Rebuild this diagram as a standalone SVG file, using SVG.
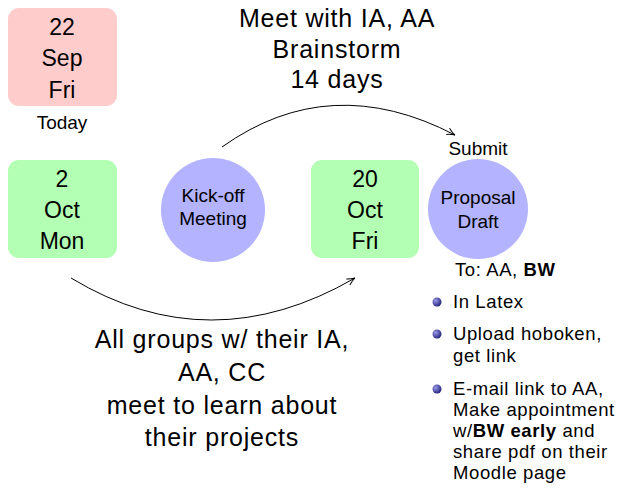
<svg xmlns="http://www.w3.org/2000/svg" width="622" height="502" viewBox="0 0 622 502">
<style>
text{font-family:"Liberation Sans","DejaVu Sans",sans-serif;fill:#000;text-anchor:middle}
.big{font-size:25px;letter-spacing:0.8px}
.box{font-size:23px}
.mid{font-size:19px}
.sm{font-size:19px}
.lst{font-size:18.5px;letter-spacing:0.6px;text-anchor:start}
.pink{fill:#ffcccc}
.green{fill:#b3ffb3}
.blue{fill:#b3b3ff}
.conn{fill:none;stroke:#000;stroke-width:1}
</style>
<defs>
<marker id="arr" viewBox="0 0 10 10" refX="9" refY="5" markerWidth="10" markerHeight="10" markerUnits="userSpaceOnUse" orient="auto">
<path d="M1,1.5 Q5,4 9,5 Q5,6 1,8.5" fill="none" stroke="#000" stroke-width="1"/>
</marker>
<radialGradient id="ball" cx="0.35" cy="0.35" r="0.7">
<stop offset="0" stop-color="#9a9ae8"/>
<stop offset="1" stop-color="#20207a"/>
</radialGradient>
</defs>
<g id="n-today">
<rect class="pink" x="8" y="8" width="109" height="98" rx="11"/>
<text class="box" x="62" y="35">22</text>
<text class="box" x="62" y="66">Sep</text>
<text class="box" x="62" y="98">Fri</text>
<text class="sm" x="62" y="129">Today</text>
</g>
<g id="n-oct2">
<rect class="green" x="8" y="160" width="109" height="98" rx="11"/>
<text class="box" x="62" y="187">2</text>
<text class="box" x="62" y="218">Oct</text>
<text class="box" x="62" y="249">Mon</text>
</g>
<g id="n-kickoff">
<circle class="blue" cx="213" cy="210" r="52"/>
<text class="mid" x="213" y="202">Kick-off</text>
<text class="mid" x="213" y="225">Meeting</text>
</g>
<g id="n-oct20">
<rect class="green" x="311" y="160" width="108" height="98" rx="11"/>
<text class="box" x="365" y="187">20</text>
<text class="box" x="365" y="218">Oct</text>
<text class="box" x="365" y="249">Fri</text>
</g>
<g id="n-proposal">
<circle class="blue" cx="478" cy="209" r="50"/>
<text class="mid" x="478" y="204">Proposal</text>
<text class="mid" x="478" y="228">Draft</text>
<text class="sm" x="478" y="155">Submit</text>
</g>
<g id="n-list">
<text class="lst" x="455" y="276">To: AA, <tspan font-weight="bold">BW</tspan></text>
<circle cx="437" cy="302" r="4.5" fill="url(#ball)"/>
<text class="lst" x="453" y="308">In Latex</text>
<circle cx="437" cy="334" r="4.5" fill="url(#ball)"/>
<text class="lst" x="453" y="340">Upload hoboken,</text>
<text class="lst" x="453" y="362">get link</text>
<circle cx="437" cy="389" r="4.5" fill="url(#ball)"/>
<text class="lst" x="453" y="395">E-mail link to AA,</text>
<text class="lst" x="453" y="416">Make appointment</text>
<text class="lst" x="453" y="437">w/<tspan font-weight="bold">BW early</tspan> and</text>
<text class="lst" x="453" y="458">share pdf on their</text>
<text class="lst" x="453" y="479">Moodle page</text>
</g>
<g id="n-toplabel">
<text class="big" x="337" y="27">Meet with IA, AA</text>
<text class="big" x="337" y="58">Brainstorm</text>
<text class="big" x="337" y="88">14 days</text>
</g>
<g id="n-botlabel">
<text class="big" x="222" y="348">All groups w/ their IA,</text>
<text class="big" x="222" y="381">AA, CC</text>
<text class="big" x="222" y="414">meet to learn about</text>
<text class="big" x="222" y="446">their projects</text>
</g>
<g id="connectors">
<path class="conn" d="M222,147 Q330,70 455,135" marker-end="url(#arr)"/>
<path class="conn" d="M71,278 Q210,362 355,278" marker-end="url(#arr)"/>
</g>
</svg>
